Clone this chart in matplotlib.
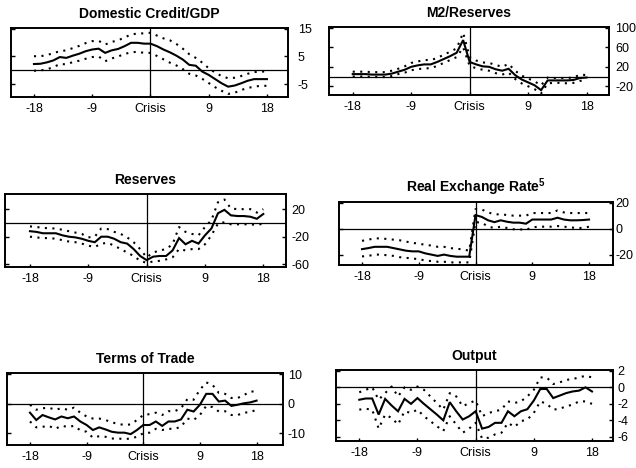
import matplotlib
matplotlib.use("Agg")
import matplotlib.pyplot as plt
import numpy as np

plt.rcParams['font.family'] = ['Liberation Sans', 'DejaVu Sans']

months = list(range(-18, 19))
xtick_pos = [-18, -9, 0, 9, 18]
xtick_labels = ['-18', '-9', 'Crisis', '9', '18']

# Domestic Credit/GDP
dc_mean = [2.3, 2.4, 2.9, 3.6, 4.8, 4.5, 5.3, 6, 6.9, 7.5, 7.8, 6.3, 7.2, 7.7, 8.7, 9.9, 9.9, 9.6,
           9.6, 8.7, 7.5, 6.5, 5.3, 3.9, 2, 1.7, -0.4, -1.6, -3.1, -4.6, -5.8, -5.4, -4.6, -3.7, -3.1, -3.1, -3.1]
dc_upper = [5.1, 5.1, 5.5, 6.2, 6.9, 7.2, 8, 8.8, 9.8, 10.5, 10.6, 9.3, 10.2, 10.8, 11.8, 12.9, 13.2, 13.3,
            13.5, 12.5, 11.5, 10.8, 9.5, 7.8, 5.8, 4.5, 2.8, 0.8, -0.8, -2, -2.8, -2.6, -2, -1.2, -0.6, -0.4, -0.4]
dc_lower = [-0.1, 0, 0.4, 1.2, 2.3, 2.2, 3, 3.5, 4.2, 4.8, 5, 3.3, 4.3, 5, 5.9, 6.5, 6.7, 6.3,
            6.3, 5.2, 4, 2.8, 1.8, 0.5, -1.2, -1.8, -3, -4.5, -6, -7.3, -8.4, -8, -7, -6.3, -5.8, -5.5, -5.5]

# M2/Reserves
m2_mean = [5, 5, 5, 4, 4, 4, 6, 10, 14, 20, 23, 25, 25, 30, 36, 42, 49, 75,
           30, 25, 21, 20, 15, 12, 16, 3, -6, -12, -18, -28, -8, -8, -8, -8, -7, -3, -2]
m2_upper = [10, 10, 10, 9, 9, 9, 12, 16, 21, 28, 31, 34, 34, 38, 45, 51, 58, 90,
            40, 33, 29, 28, 24, 20, 26, 12, 2, -4, -10, -18, -2, -3, -3, -3, -2, 4, 3]
m2_lower = [0, 0, 0, -1, -1, -1, 1, 5, 8, 13, 15, 17, 17, 22, 28, 34, 40, 60,
            22, 17, 14, 12, 7, 4, 8, -5, -14, -20, -26, -35, -14, -13, -13, -14, -13, -9, -7]

# Reserves
res_mean = [-12, -13, -15, -15, -15, -18, -20, -21, -23, -26, -28, -20, -20, -23, -28, -30, -38, -48,
            -54, -49, -48, -48, -40, -22, -31, -26, -30, -18, -8, 14, 19, 11, 10, 10, 9, 6, 13]
res_upper = [-5, -6, -7, -8, -8, -10, -12, -14, -16, -21, -20, -8, -9, -13, -16, -21, -28, -38,
             -50, -43, -40, -38, -31, -6, -13, -16, -18, -6, 4, 30, 34, 21, 20, 20, 20, 15, 20]
res_lower = [-20, -21, -22, -22, -23, -25, -27, -28, -30, -33, -35, -30, -29, -33, -38, -43, -48, -55,
             -58, -56, -55, -53, -50, -38, -40, -38, -38, -31, -18, -1, 1, -2, -2, -2, -2, -3, -1]

# Real Exchange Rate
rer_mean = [-15.8, -15, -14, -14, -14, -15, -16, -17, -17.5, -17.5, -19, -20, -21, -20, -21, -21.6, -21.6, -21.6,
            10.4, 9, 6.4, 5, 6.4, 5.3, 4.6, 4.6, 3.8, 7, 7, 7, 7, 8.4, 7, 6.4, 6.4, 6.6, 7]
rer_upper = [-9.4, -8.5, -7.5, -7.5, -8, -8.5, -9, -10, -11, -11.5, -12.5, -13, -14, -14, -15, -15.5, -16, -17,
             15, 14.7, 12.5, 11, 11, 10.5, 10, 10, 10, 12, 12, 12, 12, 14, 12.5, 12, 12, 12, 12]
rer_lower = [-21.4, -21, -20, -20, -20.5, -21, -22, -22.5, -23, -23.5, -24.5, -25, -25.5, -25.5, -26, -26, -26, -26,
             5, 4.6, 1.5, 0.5, 1.5, 0.5, -0.5, -0.5, -1, 1, 1.5, 1.5, 1.5, 2, 1.5, 1, 0.5, 0.5, 1.5]

# Terms of Trade
tot_mean = [-3, -5.5, -3.8, -4.6, -5.3, -4.3, -4.9, -4.3, -6, -7.2, -8.9, -8, -8.7, -9.5, -9.8, -9.8, -10.3, -8.9,
            -7.2, -7.2, -6, -7.5, -6, -6, -5.3, -2, -2.6, -0.3, 3.4, 3.4, 0.8, 1.1, -0.7, -0.3, 0.2, 0.5, 1.1]
tot_upper = [-0.3, -2, -1.5, -1.3, -2, -1.5, -2, -1.3, -3, -4.3, -5, -5, -5.5, -6.3, -6.8, -7.2, -7, -5.5,
             -3.8, -3.5, -3, -3.8, -2.5, -2.5, -1.5, 1.6, 1.4, 4.8, 7.3, 6.5, 3.7, 3.4, 2, 2, 3, 4.2, 4.2]
tot_lower = [-6, -8, -7.8, -7.5, -8.5, -7.5, -7.8, -7.5, -9, -9.5, -11.5, -11, -11.2, -11.8, -11.8, -12, -11.8, -11.2,
             -10, -9.8, -8.5, -8.9, -8.5, -8.5, -7.8, -5, -5.5, -3.8, -0.7, -1.1, -2.6, -2.5, -3.8, -3.8, -3, -2.8, -2]

# Output
out_mean = [-1.5, -1.35, -1.35, -3.3, -1.4, -2.2, -2.9, -1.4, -2, -1.3, -2, -2.65, -3.3, -4, -1.8, -2.9, -3.9, -3.5,
            -2.9, -5, -4.8, -4.3, -4.3, -2.9, -3.5, -2.9, -2.65, -1.6, -0.2, -0.2, -1.3, -1, -0.7, -0.5, -0.4, 0, -0.5]
out_upper = [-0.6, -0.3, 0, -1.5, -0.7, 0.1, -1.1, 0, -0.3, 0.1, -0.3, -1.1, -1.9, -2.7, -0.7, -1.1, -2.3, -1.9,
             -1.6, -3.5, -3.1, -2.9, -2.7, -1.7, -1.9, -1.7, -1.1, -0.3, 1.2, 1.2, 0.4, 0.6, 0.9, 1, 1.2, 1.4, 1.2]
out_lower = [-2.7, -2.6, -2.7, -5, -3.3, -3.7, -4.5, -2.9, -3.1, -2.7, -3.5, -4.1, -4.7, -5.3, -3.5, -4.5, -5.5, -5,
             -4.3, -6.2, -6.1, -5.7, -5.5, -4.3, -4.8, -4.1, -3.9, -3.1, -1.7, -2, -2.7, -2.6, -2.3, -2.1, -1.7, -1.7, -2]

panels = [
    dict(title='Domestic Credit/GDP', mean=dc_mean, up=dc_upper, lo=dc_lower,
         yt=[15, 5, -5], ylim=(-9.5, 15.2), xlim=(-21.55, 21.25),
         rect=(11, 28, 288, 97), ypad=7),
    dict(title='M2/Reserves', mean=m2_mean, up=m2_upper, lo=m2_lower,
         yt=[100, 60, 20, -20], ylim=(-38, 102), xlim=(-21.65, 21.45),
         rect=(329, 27, 609, 95), ypad=4.5),
    dict(title='Reserves', mean=res_mean, up=res_upper, lo=res_lower,
         yt=[20, -20, -60], ylim=(-64, 42), xlim=(-21.85, 21.5),
         rect=(5, 194, 286, 267), ypad=4),
    dict(title='Real Exchange Rate$^{\\mathregular{5}}$', mean=rer_mean, up=rer_upper, lo=rer_lower,
         yt=[20, 0, -20], ylim=(-28, 20.5), xlim=(-21.65, 21.8),
         rect=(339, 202, 613, 265), ypad=2),
    dict(title='Terms of Trade', mean=tot_mean, up=tot_upper, lo=tot_lower,
         yt=[10, 0, -10], ylim=(-14, 10.5), xlim=(-21.65, 22.2),
         rect=(7, 373, 283, 445), ypad=3.5),
    dict(title='Output', mean=out_mean, up=out_upper, lo=out_lower,
         yt=[2, 0, -2, -4, -6], ylim=(-6.5, 2.1), xlim=(-21.6, 21.25),
         rect=(336, 370, 613, 441), ypad=3),
]

W, H = 636, 468
fig = plt.figure(figsize=(W / 100, H / 100), dpi=100)

for p in panels:
    l, t, r, b = p['rect']
    ax = fig.add_axes([l / W, (H - b) / H, (r - l) / W, (b - t) / H])
    ax.plot(months, p['mean'], color='black', lw=1.5, solid_joinstyle='miter')
    ax.plot(months, p['up'], color='black', lw=1.5, linestyle=(0, (1, 2.6)))
    ax.plot(months, p['lo'], color='black', lw=1.5, linestyle=(0, (1, 2.6)))
    ax.axhline(0, color='black', lw=0.9)
    ax.axvline(0, color='black', lw=0.9)
    ax.set_xlim(*p['xlim'])
    ax.set_ylim(*p['ylim'])
    ax.set_xticks(xtick_pos)
    ax.set_xticklabels(xtick_labels)
    ax.set_yticks(p['yt'])
    ax.set_yticklabels([str(v) for v in p['yt']])
    ax.yaxis.tick_right()
    ax.tick_params(axis='y', which='both', direction='in', length=3, width=1,
                   left=True, right=True, labelleft=False, labelright=True,
                   labelsize=9, pad=p['ypad'])
    ax.tick_params(axis='x', direction='in', length=2, width=1, labelsize=9, pad=4)
    for s in ax.spines.values():
        s.set_linewidth(1.4)
    ax.set_title(p['title'], fontsize=10, fontweight='bold', pad=7.5)

fig.savefig('out.png', dpi=100)
